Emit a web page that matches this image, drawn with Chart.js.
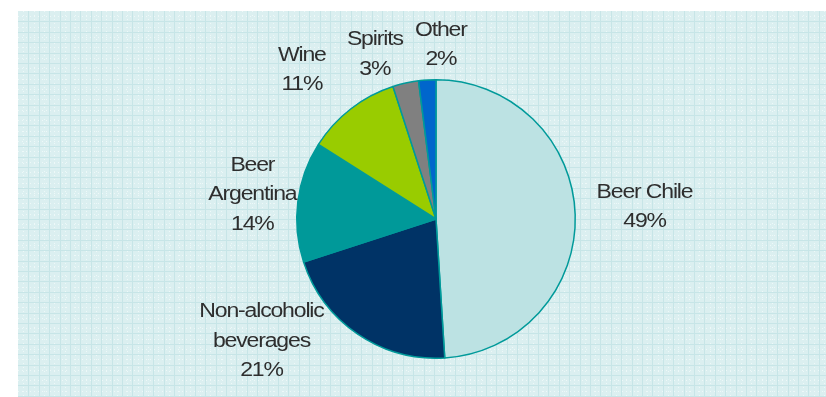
<!DOCTYPE html>
<html>
<head>
<meta charset="utf-8">
<script src="https://cdn.jsdelivr.net/npm/chart.js@4.4.0/dist/chart.umd.min.js"></script>
<style>
    html, body { margin: 0; padding: 0; background: #ffffff; }
    #wrap { width: 826px; height: 397px; }
</style>
</head>
<body>
<div id="wrap"><canvas id="chartVentas" width="826" height="397"></canvas></div>
<script>
// datos
const categorias = ["Beer Chile", "Non-alcoholic beverages", "Beer Argentina", "Wine", "Spirits", "Other"];
const porcentajes = [49, 21, 14, 11, 3, 2];
// etiquetas como aparecen (lineas)
const etiquetas = [
    ["Beer Chile"],
    ["Non-alcoholic", "beverages"],
    ["Beer", "Argentina"],
    ["Wine"],
    ["Spirits"],
    ["Other"]
];
const colores = ["#bce2e3", "#003366", "#009999", "#99cc00", "#808080", "#0066cc"];
// ajuste de etiquetas: giro (grados) y distancia relativa al radio
const giroEtiqueta = [-1.5, 20.8, 0.3, -4.2, -7.8, 5.2];
const distEtiqueta = [1.50, 1.53, 1.33, 1.44, 1.26, 1.25];

const fondoCuadriculado = {
    id: "fondoCuadriculado",
    beforeDraw(chart) {
        const ctx = chart.ctx;
        const x0 = 18, y0 = 11, x1 = chart.width, y1 = chart.height;
        const paso = 10.4;
        ctx.save();
        ctx.fillStyle = "#dbeff0";
        ctx.fillRect(x0, y0, x1 - x0, y1 - y0);
        // lineas intermedias punteadas
        ctx.strokeStyle = "#eef8f8";
        ctx.lineWidth = 1;
        ctx.setLineDash([1, 3]);
        ctx.beginPath();
        for (let x = x0 + paso / 2; x < x1; x += paso) {
            ctx.moveTo(Math.round(x) + 0.5, y0);
            ctx.lineTo(Math.round(x) + 0.5, y1);
        }
        for (let y = y0 + paso / 2; y < y1; y += paso) {
            ctx.moveTo(x0, Math.round(y) + 0.5);
            ctx.lineTo(x1, Math.round(y) + 0.5);
        }
        ctx.stroke();
        // cuadricula
        ctx.setLineDash([]);
        ctx.strokeStyle = "#c7e5e7";
        ctx.beginPath();
        for (let x = x0 + paso; x < x1; x += paso) {
            ctx.moveTo(Math.round(x) + 0.5, y0);
            ctx.lineTo(Math.round(x) + 0.5, y1);
        }
        for (let y = y0 + paso; y < y1; y += paso) {
            ctx.moveTo(x0, Math.round(y) + 0.5);
            ctx.lineTo(x1, Math.round(y) + 0.5);
        }
        ctx.stroke();
        ctx.restore();
    }
};

const etiquetasPie = {
    id: "etiquetasPie",
    afterDatasetsDraw(chart) {
        const ctx = chart.ctx;
        const meta = chart.getDatasetMeta(0);
        ctx.save();
        ctx.fillStyle = "#2e2e2e";
        ctx.font = "20px 'Liberation Sans', Arial, sans-serif";
        ctx.textAlign = "center";
        ctx.textBaseline = "middle";
        if ("letterSpacing" in ctx) ctx.letterSpacing = "-1px";
        meta.data.forEach((arc, i) => {
            const { x, y, startAngle, endAngle, outerRadius } = arc.getProps(["x", "y", "startAngle", "endAngle", "outerRadius"], true);
            const medio = (startAngle + endAngle) / 2 + giroEtiqueta[i] * Math.PI / 180;
            const d = outerRadius * distEtiqueta[i];
            const cx = x + d * Math.cos(medio);
            const cy = y + d * Math.sin(medio);
            const lineas = etiquetas[i].concat([porcentajes[i] + "%"]);
            const alto = 29.5;
            const inicio = cy - (lineas.length - 1) * alto / 2;
            lineas.forEach((t, k) => {
                ctx.save();
                ctx.translate(cx, inicio + k * alto);
                ctx.scale(1.15, 1);
                ctx.fillText(t, 0, 0);
                ctx.restore();
            });
        });
        ctx.restore();
    }
};

const ctx = document.getElementById("chartVentas").getContext("2d");
new Chart(ctx, {
    type: "pie",
    data: {
        labels: categorias,
        datasets: [{
            data: porcentajes,
            backgroundColor: colores,
            borderColor: "#009a9a",
            borderWidth: 1.5
        }]
    },
    options: {
        responsive: false,
        animation: false,
        layout: { padding: { left: 296, right: 250, top: 79, bottom: 38 } },
        plugins: {
            legend: { display: false },
            tooltip: { enabled: false }
        }
    },
    plugins: [fondoCuadriculado, etiquetasPie]
});
</script>
</body>
</html>
